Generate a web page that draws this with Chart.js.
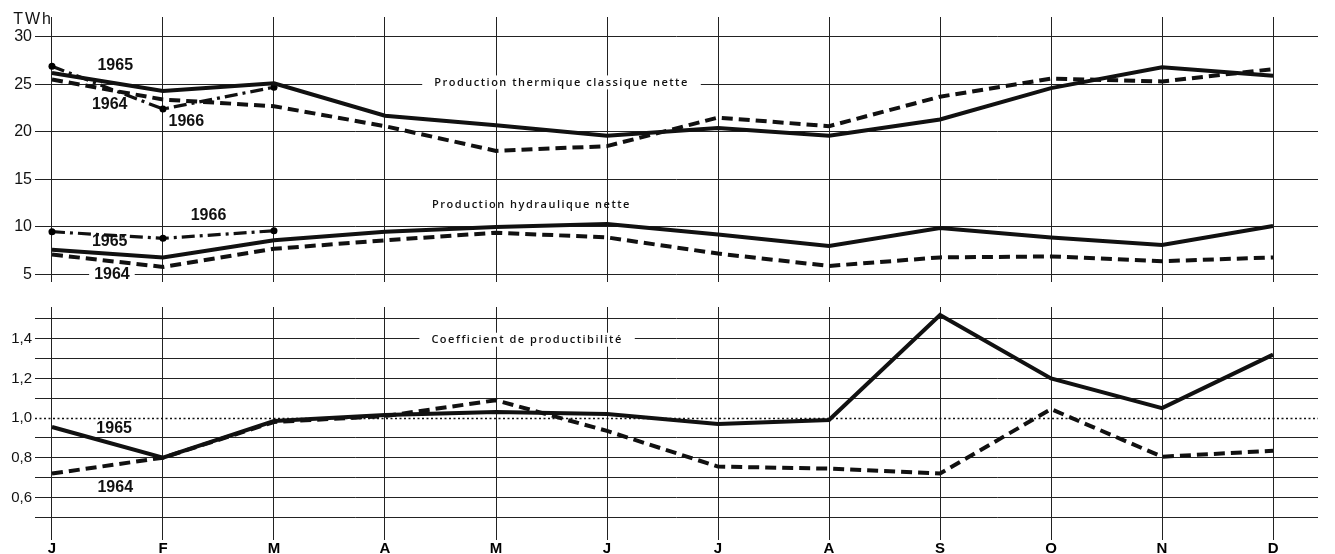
<!DOCTYPE html>
<html>
<head>
<meta charset="utf-8">
<script src="https://cdn.jsdelivr.net/npm/chart.js@4.4.1/dist/chart.umd.min.js"></script>
<style>
  html, body { margin: 0; padding: 0; background: #fff; }
  #cadre { position: relative; width: 1335px; height: 554px; }
  #haut { position: absolute; left: 0; top: 0; }
  #bas { position: absolute; left: 0; top: 295px; }
</style>
</head>
<body>
<div id="cadre">
  <canvas id="haut" width="1335" height="295"></canvas>
  <canvas id="bas" width="1335" height="259"></canvas>
</div>
<script>
const mois = ['J', 'F', 'M', 'A', 'M', 'J', 'J', 'A', 'S', 'O', 'N', 'D'];

// TWh
const thermique1964 = [25.5, 23.4, 22.7, 20.6, 18.0, 18.5, 21.5, 20.6, 23.7, 25.6, 25.3, 26.6];
const thermique1965 = [26.2, 24.3, 25.1, 21.7, 20.7, 19.6, 20.4, 19.6, 21.3, 24.6, 26.8, 25.9];
const thermique1966 = [26.9, 22.4, 24.7];
const hydraulique1964 = [7.1, 5.8, 7.7, 8.6, 9.4, 8.9, 7.2, 5.9, 6.8, 6.9, 6.4, 6.8];
const hydraulique1965 = [7.6, 6.8, 8.6, 9.5, 10.0, 10.3, 9.2, 8.0, 9.9, 8.9, 8.1, 10.1];
const hydraulique1966 = [9.5, 8.8, 9.6];

// coefficient de productibilité
const coef1964 = [0.72, 0.80, 0.98, 1.01, 1.09, 0.935, 0.755, 0.745, 0.72, 1.045, 0.805, 0.835];
const coef1965 = [0.955, 0.80, 0.985, 1.015, 1.03, 1.02, 0.97, 0.99, 1.52, 1.20, 1.05, 1.32];

const ticksTWh = [5, 10, 15, 20, 25, 30];
const ticksCoef = [0.5, 0.6, 0.7, 0.8, 0.9, 1.0, 1.1, 1.2, 1.3, 1.4, 1.5];
const labelsCoef = [0.6, 0.8, 1.0, 1.2, 1.4];

// textes posés sur le graphique (en unités des axes)
const textesHaut = [
  { t: 'TWh', x: -0.35, y: 31.8, type: 'unite' },
  { t: '1965', x: 0.57, y: 27.0 },
  { t: '1964', x: 0.52, y: 22.9 },
  { t: '1966', x: 1.21, y: 21.1 },
  { t: 'Production thermique classique nette', x: 4.59, y: 25.2, type: 'titre', fond: 12 },
  { t: 'Production hydraulique nette', x: 4.32, y: 12.3, type: 'titre' },
  { t: '1966', x: 1.41, y: 11.15 },
  { t: '1965', x: 0.52, y: 8.5 },
  { t: '1964', x: 0.54, y: 4.95, fond: 5 }
];
const textesBas = [
  { t: 'Coefficient de productibilité', x: 4.28, y: 1.395, type: 'titre', fond: 12 },
  { t: '1965', x: 0.56, y: 0.945 },
  { t: '1964', x: 0.57, y: 0.6475 }
];

const etiquettes = {
  id: 'etiquettes',
  afterDatasetsDraw(chart, args, opts) {
    const { ctx, scales: { x, y } } = chart;
    opts.liste.forEach((e) => {
      ctx.save();
      if (e.type === 'titre') {
        ctx.font = '600 11px "Open Sans"';
        ctx.letterSpacing = '1.5px';
      } else if (e.type === 'unite') {
        ctx.font = '16px "Liberation Sans"';
        ctx.letterSpacing = '2px';
      } else {
        ctx.font = 'bold 16px "Liberation Sans"';
        ctx.letterSpacing = '0px';
      }
      const px = x.getPixelForValue(e.x);
      const py = y.getPixelForValue(e.y);
      ctx.textAlign = e.type === 'unite' ? 'left' : 'center';
      ctx.textBaseline = 'middle';
      if (e.fond) {
        const w = ctx.measureText(e.t).width + e.fond * 2;
        ctx.fillStyle = '#fff';
        ctx.fillRect(px - w / 2, py - 7, w, 14);
      }
      ctx.fillStyle = '#111';
      ctx.fillText(e.t, px, py);
      ctx.restore();
    });
  }
};

// ligne pointillée du coefficient 1,0
const ligneUnite = {
  id: 'ligneUnite',
  beforeDatasetsDraw(chart) {
    const { ctx, chartArea, scales: { y } } = chart;
    const py = Math.round(y.getPixelForValue(1.0)) + 0.5;
    ctx.save();
    ctx.strokeStyle = '#111';
    ctx.lineWidth = 1.5;
    ctx.setLineDash([2, 2.5]);
    ctx.beginPath();
    ctx.moveTo(chartArea.left, py);
    ctx.lineTo(chartArea.right, py);
    ctx.stroke();
    ctx.restore();
  }
};

function points(valeurs) {
  return valeurs.map((v, i) => ({ x: i, y: v }));
}

function serie(valeurs, annee) {
  const s = {
    data: points(valeurs),
    borderColor: '#111',
    backgroundColor: '#111',
    borderWidth: 4,
    pointRadius: 0,
    tension: 0,
    fill: false
  };
  if (annee === 1964) s.borderDash = [11, 6];
  if (annee === 1966) {
    s.borderWidth = 3.2;
    s.borderDash = [13, 5, 3, 5];
    s.pointRadius = 3.5;
    s.pointBackgroundColor = '#000';
    s.pointBorderWidth = 0;
  }
  return s;
}

function axeX(afficher) {
  return {
    type: 'linear',
    min: -0.153,
    max: 11.405,
    afterBuildTicks: (s) => { s.ticks = mois.map((m, i) => ({ value: i })); },
    ticks: {
      display: afficher,
      autoSkip: false,
      maxRotation: 0,
      padding: 0,
      color: '#000',
      font: { family: 'Liberation Sans', size: 15, weight: 'bold' },
      callback: (v) => mois[v]
    },
    grid: { color: '#222', lineWidth: 1, drawTicks: false },
    border: { display: false },
    afterFit: (s) => { s.height = afficher ? 14 : 0; }
  };
}

const communs = {
  responsive: false,
  animation: false,
  events: [],
  plugins: { legend: { display: false }, tooltip: { enabled: false } }
};

new Chart(document.getElementById('haut').getContext('2d'), {
  type: 'line',
  data: {
    datasets: [
      serie(thermique1965, 1965),
      serie(thermique1964, 1964),
      serie(thermique1966, 1966),
      serie(hydraulique1965, 1965),
      serie(hydraulique1964, 1964),
      serie(hydraulique1966, 1966)
    ]
  },
  options: {
    ...communs,
    layout: { padding: { top: 17, right: 17, bottom: 10, left: 0 } },
    plugins: { ...communs.plugins, etiquettes: { liste: textesHaut } },
    scales: {
      x: axeX(false),
      y: {
        min: 4.17,
        max: 32.08,
        afterBuildTicks: (s) => { s.ticks = ticksTWh.map((v) => ({ value: v })); },
        ticks: { color: '#111', padding: 3, font: { family: 'Liberation Sans', size: 16 } },
        grid: { color: '#222', lineWidth: 1, drawTicks: false },
        border: { display: false },
        afterFit: (s) => { s.width = 35; }
      }
    }
  },
  plugins: [etiquettes]
});

new Chart(document.getElementById('bas').getContext('2d'), {
  type: 'line',
  data: {
    datasets: [
      serie(coef1965, 1965),
      serie(coef1964, 1964)
    ]
  },
  options: {
    ...communs,
    layout: { padding: { top: 10, right: 17, bottom: 0, left: 0 } },
    plugins: { ...communs.plugins, etiquettes: { liste: textesBas } },
    scales: {
      x: axeX(true),
      y: {
        min: 0.385,
        max: 1.56,
        afterBuildTicks: (s) => { s.ticks = ticksCoef.map((v) => ({ value: v })); },
        ticks: {
          color: '#111',
          padding: 3,
          font: { family: 'Liberation Sans', size: 15 },
          callback: (v) => labelsCoef.some((l) => Math.abs(l - v) < 1e-6) ? v.toFixed(1).replace('.', ',') : ''
        },
        grid: {
          color: (c) => Math.abs(c.tick.value - 1) < 1e-6 ? 'rgba(0,0,0,0)' : '#222',
          lineWidth: 1,
          drawTicks: false
        },
        border: { display: false },
        afterFit: (s) => { s.width = 35; }
      }
    }
  },
  plugins: [ligneUnite, etiquettes]
});
</script>
</body>
</html>
